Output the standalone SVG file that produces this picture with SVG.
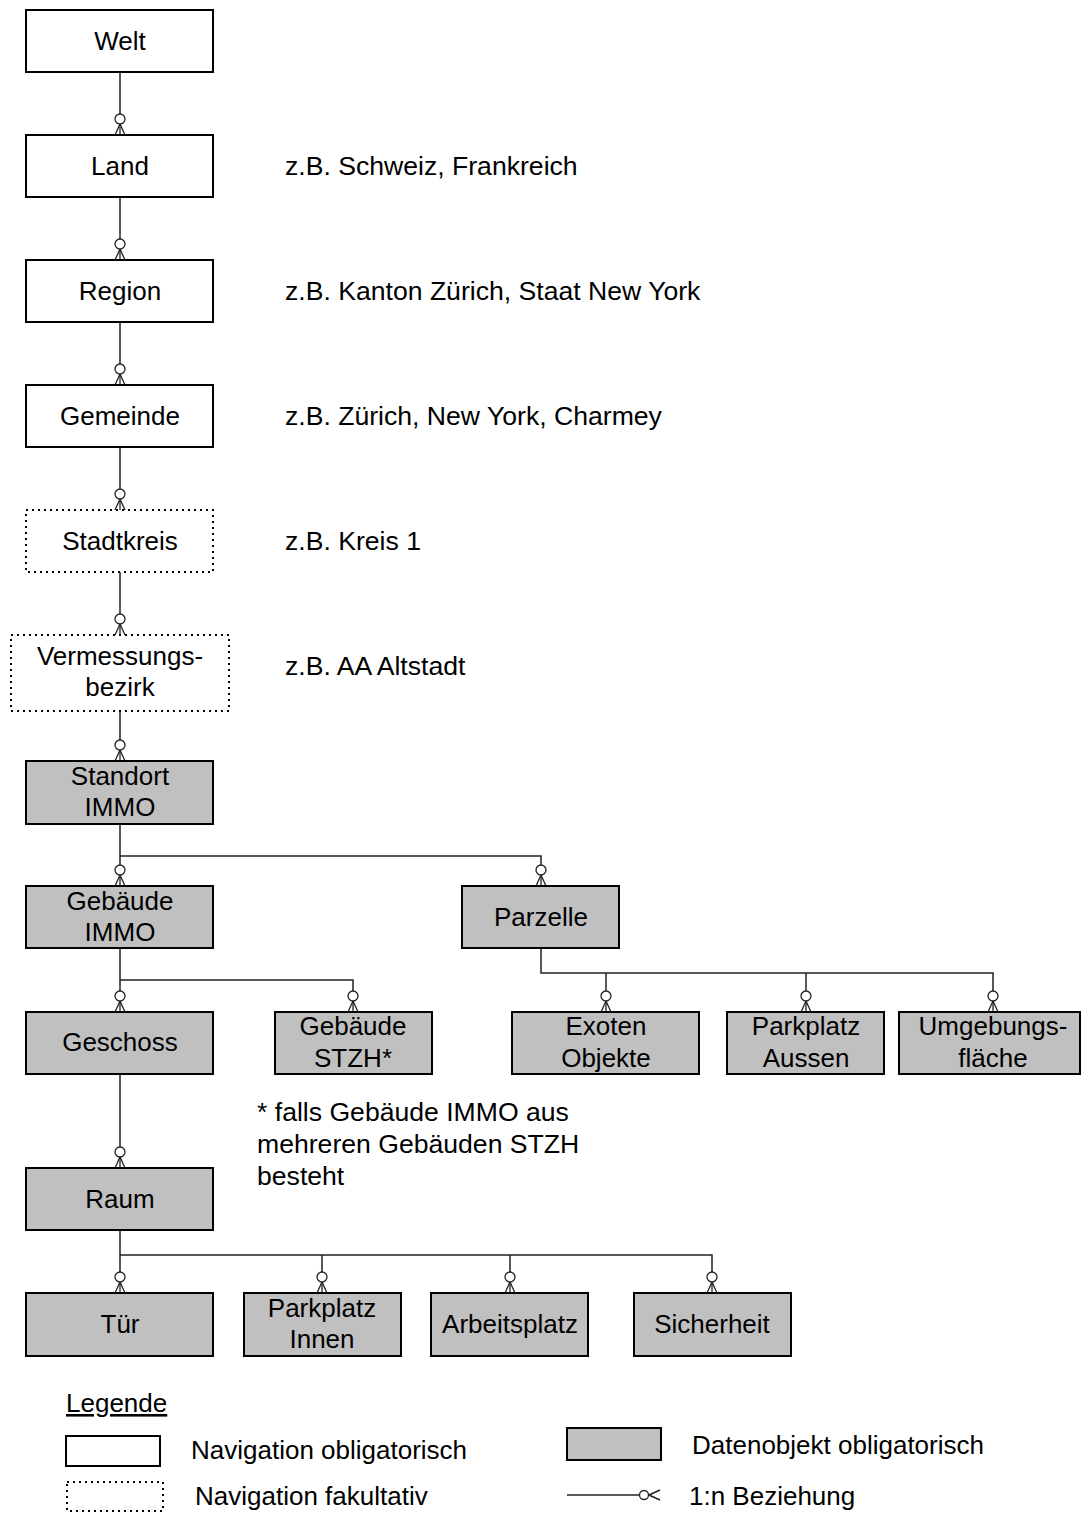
<svg xmlns="http://www.w3.org/2000/svg" xmlns:xlink="http://www.w3.org/1999/xlink" width="1081" height="1513" viewBox="0 0 1081 1513">
<style>
text{font-family:"Liberation Sans",Arial,sans-serif;font-size:26px;fill:#000}
.c{text-anchor:middle}
.a{font-size:26.6px}
.box{fill:#fff;stroke:#000;stroke-width:2}
.dot{fill:#fff;stroke:#000;stroke-width:2;stroke-dasharray:2 4}
.data{fill:#c0c0c0;stroke:#000;stroke-width:2}
.ln{fill:none;stroke:#222;stroke-width:1.5}
</style>
<defs>
<g id="foot">
<line x1="0" y1="-11" x2="-5" y2="0" stroke="#222" stroke-width="1.3"/>
<line x1="0" y1="-11" x2="5" y2="0" stroke="#222" stroke-width="1.3"/>
<line x1="0" y1="-11" x2="0" y2="0" stroke="#222" stroke-width="1.3"/>
<circle cx="0" cy="-16" r="5" fill="#fff" stroke="#222" stroke-width="1.3"/>
</g>
</defs>
<rect width="1081" height="1513" fill="#fff"/>
<g id="connectors">
<path class="ln" d="M120 72V119M120 197V244M120 322V369M120 447V494M120 572V619M120 711V745"/>
<path class="ln" d="M120 824V870M120 856H541V870"/>
<path class="ln" d="M120 948V996M120 980H353V996"/>
<path class="ln" d="M541 948V973H993V996M606 973V996M806 973V996"/>
<path class="ln" d="M120 1074V1152"/>
<path class="ln" d="M120 1230V1277M120 1255H712V1277M322 1255V1277M510 1255V1277"/>
<use xlink:href="#foot" x="120" y="135"/>
<use xlink:href="#foot" x="120" y="260"/>
<use xlink:href="#foot" x="120" y="385"/>
<use xlink:href="#foot" x="120" y="510"/>
<use xlink:href="#foot" x="120" y="635"/>
<use xlink:href="#foot" x="120" y="761"/>
<use xlink:href="#foot" x="120" y="886"/>
<use xlink:href="#foot" x="541" y="886"/>
<use xlink:href="#foot" x="120" y="1012"/>
<use xlink:href="#foot" x="353" y="1012"/>
<use xlink:href="#foot" x="606" y="1012"/>
<use xlink:href="#foot" x="806" y="1012"/>
<use xlink:href="#foot" x="993" y="1012"/>
<use xlink:href="#foot" x="120" y="1168"/>
<use xlink:href="#foot" x="120" y="1293"/>
<use xlink:href="#foot" x="322" y="1293"/>
<use xlink:href="#foot" x="510" y="1293"/>
<use xlink:href="#foot" x="712" y="1293"/>
</g>
<g id="welt"><rect class="box" x="26" y="10" width="187" height="62"/><text class="c" x="120" y="50">Welt</text></g>
<g id="land"><rect class="box" x="26" y="135" width="187" height="62"/><text class="c" x="120" y="175">Land</text></g>
<g id="region"><rect class="box" x="26" y="260" width="187" height="62"/><text class="c" x="120" y="300">Region</text></g>
<g id="gemeinde"><rect class="box" x="26" y="385" width="187" height="62"/><text class="c" x="120" y="425">Gemeinde</text></g>
<g id="stadtkreis"><rect class="dot" x="26" y="510" width="187" height="62"/><text class="c" x="120" y="550">Stadtkreis</text></g>
<g id="vermessungsbezirk"><rect class="dot" x="11" y="635" width="218" height="76"/><text class="c" x="120" y="665">Vermessungs-</text><text class="c" x="120" y="696">bezirk</text></g>
<g id="standort"><rect class="data" x="26" y="761" width="187" height="63"/><text class="c" x="120" y="785">Standort</text><text class="c" x="120" y="816">IMMO</text></g>
<g id="gebaeude-immo"><rect class="data" x="26" y="886" width="187" height="62"/><text class="c" x="120" y="910">Gebäude</text><text class="c" x="120" y="941">IMMO</text></g>
<g id="parzelle"><rect class="data" x="462" y="886" width="157" height="62"/><text class="c" x="541" y="926">Parzelle</text></g>
<g id="geschoss"><rect class="data" x="26" y="1012" width="187" height="62"/><text class="c" x="120" y="1051">Geschoss</text></g>
<g id="gebaeude-stzh"><rect class="data" x="275" y="1012" width="157" height="62"/><text class="c" x="353" y="1035">Gebäude</text><text class="c" x="353" y="1067">STZH*</text></g>
<g id="exoten"><rect class="data" x="512" y="1012" width="187" height="62"/><text class="c" x="606" y="1035">Exoten</text><text class="c" x="606" y="1067">Objekte</text></g>
<g id="parkplatz-aussen"><rect class="data" x="727" y="1012" width="157" height="62"/><text class="c" x="806" y="1035">Parkplatz</text><text class="c" x="806" y="1067">Aussen</text></g>
<g id="umgebung"><rect class="data" x="899" y="1012" width="181" height="62"/><text class="c" x="993" y="1035">Umgebungs-</text><text class="c" x="993" y="1067">fläche</text></g>
<g id="raum"><rect class="data" x="26" y="1168" width="187" height="62"/><text class="c" x="120" y="1208">Raum</text></g>
<g id="tuer"><rect class="data" x="26" y="1293" width="187" height="63"/><text class="c" x="120" y="1333">Tür</text></g>
<g id="parkplatz-innen"><rect class="data" x="244" y="1293" width="157" height="63"/><text class="c" x="322" y="1317">Parkplatz</text><text class="c" x="322" y="1348">Innen</text></g>
<g id="arbeitsplatz"><rect class="data" x="431" y="1293" width="157" height="63"/><text class="c" x="510" y="1333">Arbeitsplatz</text></g>
<g id="sicherheit"><rect class="data" x="634" y="1293" width="157" height="63"/><text class="c" x="712" y="1333">Sicherheit</text></g>
<g id="annotations">
<text class="a" x="285" y="175">z.B. Schweiz, Frankreich</text>
<text class="a" x="285" y="300">z.B. Kanton Zürich, Staat New York</text>
<text class="a" x="285" y="425">z.B. Zürich, New York, Charmey</text>
<text class="a" x="285" y="550">z.B. Kreis 1</text>
<text class="a" x="285" y="675">z.B. AA Altstadt</text>
<text class="a" x="257" y="1121">* falls Gebäude IMMO aus</text>
<text class="a" x="257" y="1153">mehreren Gebäuden STZH</text>
<text class="a" x="257" y="1185">besteht</text>
</g>
<g id="legend">
<text x="66" y="1412" text-decoration="underline">Legende</text>
<rect class="box" x="66" y="1436" width="94" height="30"/>
<text x="191" y="1459">Navigation obligatorisch</text>
<rect class="dot" x="67" y="1482" width="96" height="29"/>
<text x="195" y="1505">Navigation fakultativ</text>
<rect class="data" x="567" y="1428" width="94" height="32"/>
<text x="692" y="1454">Datenobjekt obligatorisch</text>
<line class="ln" x1="567" y1="1495" x2="639" y2="1495"/>
<circle cx="644" cy="1495" r="4.5" fill="#fff" stroke="#222" stroke-width="1.3"/>
<path class="ln" d="M649 1495L660 1490M649 1495L660 1500"/>
<text x="689" y="1505">1:n Beziehung</text>
</g>
</svg>
